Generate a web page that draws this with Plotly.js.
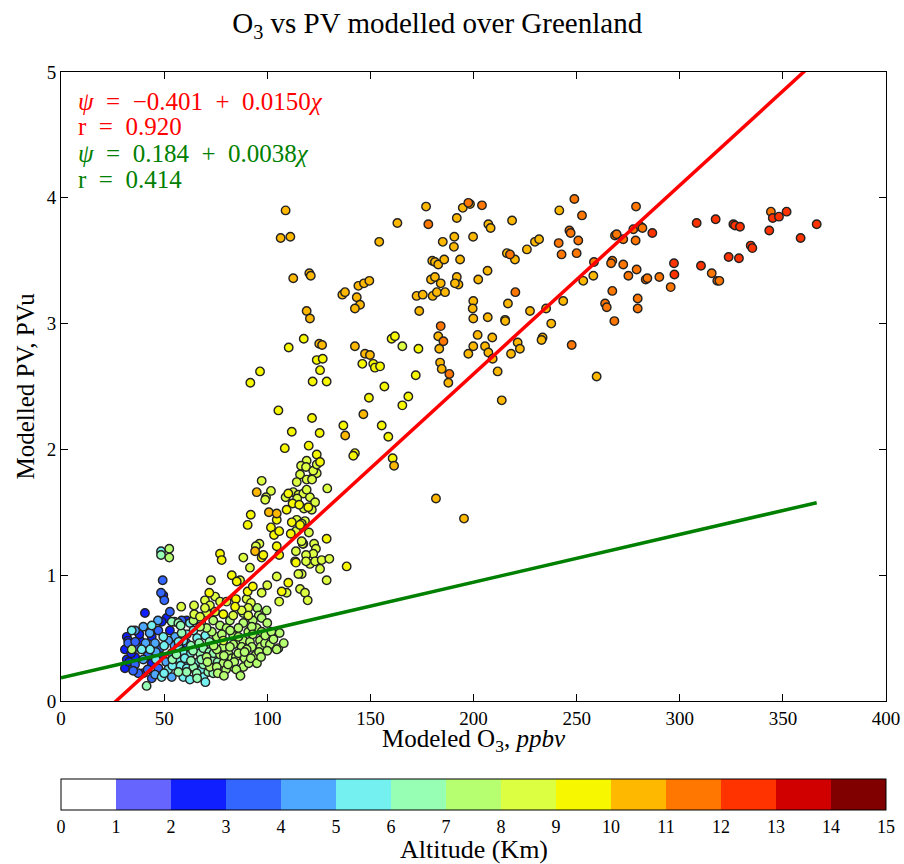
<!DOCTYPE html>
<html><head><meta charset="utf-8">
<script src="https://cdn.plot.ly/plotly-3.0.1.min.js"></script>
<style>body{margin:0;background:#fff}#chart{width:904px;height:864px}</style>
</head><body><div id="chart"></div>
<script>
// ---- data: modelled O3 (ppbv) and PV (PVu), grouped by altitude bin (km, bin centre) ----
const o3_alt2 = [60.9,60.1,49.6,40.7,51.2,48.8,31.9,31,31.9,31,38.3,35.9,44,52.8,44,39.9,48.8,32.6,34,38,33];
const pv_alt2 = [0.64,0.41,0.84,0.70,0.66,0.63,0.51,0.41,0.33,0.26,0.48,0.35,0.51,0.56,0.30,0.22,0.35,0.48,0.38,0.53,0.31];
const o3_alt3 = [58.5,60.9,49.3,48.5,50.1,52.8,32.6,37.5,35.9,47.2,47.2,37,42,42,36,35,44,48];
const pv_alt3 = [0.64,0.46,0.96,0.86,0.80,0.71,0.46,0.22,0.29,0.56,0.26,0.43,0.36,0.25,0.47,0.24,0.18,0.42];
const o3_alt4 = [61.7,39.9,35.9,39.9,45.6,55.3,45.6,53.7,53.7,41,46,51,55,47,43,52];
const pv_alt4 = [0.29,0.59,0.56,0.33,0.46,0.51,0.21,0.19,0.38,0.46,0.39,0.31,0.44,0.64,0.54,0.48];
const o3_alt5 = [59.3,62.5,62.5,64.2,59.3,62.5,64.9,65.8,66.6,65,68.2,69,48.5,44,39.1,43.2,49.6,52,48.8,57.7,56.9,34.3,50,54,58,59,46,50,57,61,66,70,61,55,60,70];
const pv_alt5 = [0.19,0.17,0.62,0.56,0.48,0.37,0.29,0.41,0.31,0.25,0.25,0.19,1.19,0.60,0.41,0.41,0.51,0.25,0.19,0.33,0.43,0.56,0.44,0.28,0.28,0.39,0.33,0.22,0.47,0.53,0.50,0.52,0.26,0.63,0.34,0.15];
const o3_alt6 = [73.8,67.4,69,64.2,60.9,65.8,71.4,73.8,48.5,53.7,41.5,56.9,56.9,58.5,54,63,67,69,72,76,72,68,63,58,56,64,68,74,66];
const pv_alt6 = [0.33,0.38,0.29,0.27,0.23,0.22,0.23,0.22,1.16,0.63,0.12,0.62,0.23,0.54,0.33,0.44,0.46,0.42,0.47,0.31,0.39,0.62,0.32,0.60,0.37,0.40,0.33,0.38,0.18];
const o3_alt7 = [95.2,99.7,95.9,93,97.3,88.4,64.2,88.4,86,90.8,94.9,97.3,92.5,96.5,96.8,98.9,101.3,105.4,104.6,83.5,85.5,88.4,91.6,92.5,87.6,83.5,75.5,73.1,70.6,67.4,81.1,82.8,84.8,88.4,83.5,78.7,77.1,70.6,72.2,75.5,73.8,77.1,80.3,81.9,78.7,75.5,81.9,90,52.5,52.5,34.3,74,79,80,84,86,89,91,94,93,96,99,102,100,103,108,106,76,79,71,78,82,86,89,92,95,97,100,85,87,81];
const pv_alt7 = [0.74,0.72,0.68,0.64,0.66,0.70,0.64,0.62,0.58,0.55,0.58,0.55,0.59,0.48,0.43,0.46,0.45,0.42,0.41,0.52,0.47,0.48,0.47,0.43,0.43,0.45,0.51,0.55,0.58,0.59,0.38,0.34,0.35,0.27,0.27,0.30,0.37,0.35,0.27,0.27,0.64,0.60,0.58,0.64,0.43,0.41,0.43,0.41,1.21,1.14,0.41,0.44,0.36,0.25,0.31,0.38,0.34,0.30,0.36,0.53,0.39,0.52,0.55,0.62,0.49,0.46,0.54,0.22,0.20,0.31,0.53,0.56,0.51,0.39,0.34,0.30,0.35,0.40,0.25,0.20,0.29];
const o3_alt8 = [119.1,116.4,118.8,115.9,121.8,124,97.3,101.8,99.4,108.9,112.6,115.1,117.5,120.7,123.2,129.1,165.5,114.3,119.1,99,114.5,117.8,114.3,118.3,113.9,117.5,96.2,94.5,122.3,124,121.7,119.1,121.6,116.7,120.2,117.2,122.7,123.6,122.3,120.7,123.2,126.4,130.1,125.6,128.8,116.7,88.4,91.6,116.7,113.9,113.5,118.8,118.8,86.8,72.7,97.3,100,104.6,109.4,115.1,115.9,118.3,119.6,105.8,74.7,69.8,64.5,64.6,58.3,72.2,77.1,80.3,90,92.1,90.8,87.6,90.8,83.5,74.7,70.6,67.4,78.7,69.8];
const pv_alt8 = [1.91,1.87,1.86,1.80,1.77,1.81,1.75,1.67,1.62,1.62,1.66,1.64,1.65,1.62,1.58,1.69,2.82,1.74,1.76,1.60,1.61,1.53,1.44,1.43,1.35,1.25,1.25,1.23,1.83,1.88,1.76,1.68,1.52,1.41,1.34,1.25,1.25,1.21,1.17,1.09,1.11,1.12,1.13,1.05,0.96,1.01,1.14,1.06,1.27,1.19,1.11,1.16,1.11,0.96,0.96,0.86,0.92,0.99,0.86,1.01,0.89,0.86,0.80,0.79,0.83,0.80,0.76,0.69,0.75,0.76,0.79,0.79,0.81,0.78,0.74,0.72,0.68,0.68,0.71,0.70,0.67,0.48,0.74];
const o3_alt9 = [117.7,110.4,124,126.9,125.6,122,128.8,96.5,91.8,105.4,121.7,111.9,125.4,136.9,108.5,120.1,124,125.6,151.4,152.2,154.7,146.1,160.3,161.9,173.3,156.8,172,149.3,168.4,165.5,155.5,158.7,142.5,141.7,160.8,110.2,112.3,115.5,119.9,92,90.5,104.6,109.4,101.8,103.3,105.8,111.9,115.9,104.6,128.8,138.5,97.3,111.4,98.1,105.8,113.9,77.1,77.9,82.8,85.2,90.5,93,110.2,107,71.9,84.8,84.4,78.7];
const pv_alt9 = [2.88,2.81,2.71,2.72,2.63,2.54,2.54,2.62,2.53,2.31,2.25,2.14,2.13,2.19,2.01,2.03,1.96,1.90,2.68,2.65,2.66,2.68,2.88,2.90,2.80,2.50,2.59,2.41,2.42,2.35,2.19,2.10,1.97,1.95,1.93,1.65,1.57,1.56,1.54,1.48,1.40,1.44,1.52,1.38,1.32,1.35,1.42,1.40,1.23,1.29,1.07,1.14,1.33,1.16,1.16,1.10,1.17,1.12,1.00,0.95,0.87,0.91,0.94,0.87,0.86,0.81,0.75,0.69];
const o3_alt10 = [108.9,106.5,111.2,112.6,120.4,121.1,136.4,137.7,119.1,120.7,125.2,126.6,137.8,94.9,177,194.8,198.3,191.9,163.1,207.2,208.3,218.7,241.6,154.3,185.1,190.7,190.5,199.8,225.9,229.8,231.8,216.2,220.1,180,181.3,182.9,185.8,193.5,206.8,202.3,179.4,181.3,184.1,191.9,192.7,191,253.2,258.1,144.2,146.9,149.5,143.4,145,142.5,172.4,175.4,180.2,182.2,186.2,199.9,199.6,216.7,173.7,199.9,206.9,215.3,215.4,227.4,235.2,243.5,237.7,182.9,183.4,202,209.1,199.9,197.5,205.6,207.2,209.3,221.4,222.5,218.2,233.5,233,259.7,142.5,147.4,149.8,183.8,184.6,187.8,211.7,213.7,146.6,161.5,181.8,195.4,100.8,104.6,94.1];
const pv_alt10 = [3.90,3.68,3.69,3.36,3.40,3.38,3.23,3.25,3.10,3.04,2.84,2.83,2.11,1.66,3.93,3.92,3.95,3.84,3.80,3.79,3.76,3.82,3.90,3.65,3.65,3.69,3.61,3.69,3.59,3.65,3.67,3.56,3.51,3.50,3.49,3.47,3.51,3.51,3.42,3.35,3.35,3.37,3.32,3.37,3.31,3.32,3.34,3.38,3.30,3.32,3.34,3.21,3.15,3.12,3.22,3.23,3.22,3.25,3.25,3.18,3.12,3.16,3.10,3.04,3.05,3.03,3.02,3.10,3.12,3.18,3.00,2.90,2.80,2.91,2.89,2.82,2.76,2.82,2.77,2.72,2.85,2.80,2.76,2.89,2.87,2.58,2.82,2.76,2.75,2.69,2.64,2.53,2.62,2.39,2.28,1.87,1.61,1.45,1.50,1.49,1.19];
const o3_alt11 = [197.5,204.1,178.1,248.9,252.6,246.5,247.1,250.8,217.7,241.3,242.7,250,220.3,184.1,185.4,247.6,188.3,278.8,344.2,268.6,269.4,272.6,277.5,281.1,281.9,278.6,258.4,267.3,266.7,272.6,279.1,275.1,283.5,284.3,290.1,295.6,315.5,318.2,319.2,267.3,263.8,264.6,279.6,279.6,268.3];
const pv_alt11 = [3.96,3.94,3.79,3.99,3.86,3.74,3.72,3.66,3.55,3.64,3.55,3.56,3.25,2.98,2.86,2.83,2.60,3.93,3.89,3.70,3.71,3.67,3.75,3.77,3.76,3.66,3.49,3.50,3.48,3.47,3.43,3.38,3.35,3.36,3.37,3.29,3.40,3.34,3.34,3.26,3.16,3.13,3.20,3.12,3.02];
const o3_alt12 = [308.2,317.4,326,326.8,329.2,345.1,348.1,351.8,343.4,366.4,358.6,334.4,335.2,323.7,328.7,286.7,297.2,297.4,310.3];
const pv_alt12 = [3.80,3.83,3.79,3.78,3.77,3.84,3.85,3.89,3.74,3.79,3.68,3.62,3.60,3.53,3.52,3.72,3.48,3.39,3.46];

// altitude (km) assigned to each group (bin centre)
const altitudes = [2.5,3.5,4.5,5.5,6.5,7.5,8.5,9.5,10.5,11.5,12.5];
// fits: [intercept, slope], correlation
const redFit = [-0.401, 0.0150], redR = 0.920;
const greenFit = [0.184, 0.0038], greenR = 0.414;
// colour bar
const cbTicks = [0,1,2,3,4,5,6,7,8,9,10,11,12,13,14,15];
const binColors = ['#ffffff','#6666ff','#0f1fff','#3366ff','#4ea8ff','#75f0f0','#97ffb4','#b6ff70','#dcff41','#f7f700','#ffb800','#ff7700','#ff3300','#d00000','#800000'];

const groups = [[o3_alt2,pv_alt2],[o3_alt3,pv_alt3],[o3_alt4,pv_alt4],[o3_alt5,pv_alt5],[o3_alt6,pv_alt6],[o3_alt7,pv_alt7],[o3_alt8,pv_alt8],[o3_alt9,pv_alt9],[o3_alt10,pv_alt10],[o3_alt11,pv_alt11],[o3_alt12,pv_alt12]];
let X=[],Y=[],C=[];
groups.forEach((g,i)=>{ g[0].forEach((v,j)=>{X.push(v);Y.push(g[1][j]);C.push(altitudes[i]);}); });

const cs=[];
binColors.forEach((c,i)=>{cs.push([i/15,c]);cs.push([(i+1)/15,c]);});

const serif='"Liberation Serif","DejaVu Serif",serif';
const xMax = Math.max(...X);
const redX=[0,400], greenX=[0,xMax];
const lin=(f,xs)=>xs.map(x=>f[0]+f[1]*x);

const traces=[
 {type:'scatter',mode:'markers',x:X,y:Y,showlegend:false,hoverinfo:'x+y',
  marker:{size:8.5,color:C,cmin:0,cmax:15,colorscale:cs,line:{color:'#222',width:1.4},
   showscale:true,
   colorbar:{orientation:'h',x:0,xanchor:'left',xref:'paper',y:-0.124,yanchor:'top',yref:'paper',
     len:1,lenmode:'fraction',thickness:31,thicknessmode:'pixels',xpad:0,ypad:0,
     outlinewidth:1,outlinecolor:'#000',tickmode:'array',tickvals:cbTicks,ticks:'',
     tickfont:{family:serif,size:18,color:'#000'}}}},
 {type:'scatter',mode:'lines',x:redX,y:lin(redFit,redX),line:{color:'#ff0000',width:3.5},showlegend:false,hoverinfo:'skip'},
 {type:'scatter',mode:'lines',x:greenX,y:lin(greenFit,greenX),line:{color:'#008000',width:3.5},showlegend:false,hoverinfo:'skip'}
];

const sp='\u2002';
const fmtFit=f=>'<i>ψ</i>'+sp+'='+sp+(f[0]<0?'−'+Math.abs(f[0]).toFixed(3):f[0].toFixed(3))+sp+'+'+sp+f[1].toFixed(4)+'<i>χ</i>';
const ann=(t,y,c)=>({text:t,xref:'paper',yref:'paper',x:0.018,y:y,xanchor:'left',yanchor:'middle',showarrow:false,font:{family:serif,size:25,color:c}});
const txt=(t,x,y,s,ang)=>({text:t,xref:'paper',yref:'paper',x:x,y:y,xanchor:'center',yanchor:'middle',showarrow:false,textangle:ang||0,font:{family:serif,size:s,color:'#000'}});

const layout={
 width:904,height:864,paper_bgcolor:'#fff',plot_bgcolor:'#fff',
 margin:{l:61,r:18,t:72,b:163},
 title:{text:'O<sub>3</sub> vs PV modelled over Greenland',x:0.456,xref:'paper',xanchor:'center',y:0.974,yref:'container',yanchor:'middle',font:{family:serif,size:29,color:'#000'}},
 xaxis:{range:[0,400],tickvals:[0,50,100,150,200,250,300,350,400],showgrid:false,zeroline:false,showline:true,mirror:'ticks',linecolor:'#000',linewidth:1,ticks:'inside',ticklen:7,tickcolor:'#000',
   tickfont:{family:serif,size:19,color:'#000'}},
 yaxis:{range:[0,5],tickvals:[0,1,2,3,4,5],showgrid:false,zeroline:false,showline:true,mirror:'ticks',linecolor:'#000',linewidth:1,ticks:'inside',ticklen:7,tickcolor:'#000',
   tickfont:{family:serif,size:19,color:'#000'}},
 annotations:[ann(fmtFit(redFit),0.953,'#ff0000'),ann('r'+sp+'='+sp+redR.toFixed(3),0.913,'#ff0000'),ann(fmtFit(greenFit),0.871,'#008000'),ann('r'+sp+'='+sp+greenR.toFixed(3),0.829,'#008000'),
  txt('Modeled O<sub>3</sub>, <i>ppbv</i>',0.5,-0.0625,25),
  txt('Modelled PV, PVu',-0.0436,0.5,25,-90),
  txt('Altitude (Km)',0.5,-0.2353,26)]
};
Plotly.newPlot('chart',traces,layout,{displayModeBar:false,staticPlot:true});
</script></body></html>
